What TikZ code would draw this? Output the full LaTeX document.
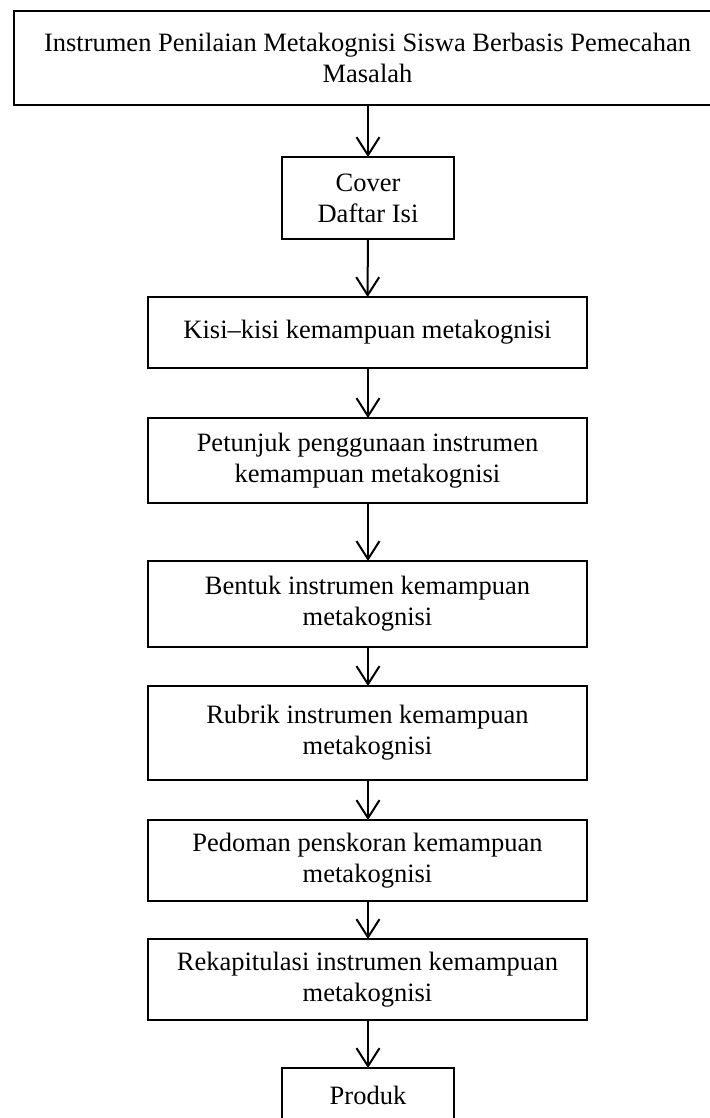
\documentclass[tikz,border=0pt]{standalone}
\usepackage{fontspec}
\setmainfont{Liberation Serif}
\usetikzlibrary{arrows.meta}
\begin{document}
\begin{tikzpicture}[x=1pt,y=-1pt,
  box/.style={draw=black,line width=2.8pt,rectangle,inner sep=0pt,outer sep=0pt,
    align=center,font=\fontsize{26.5}{31}\selectfont},
  wide/.style={box,minimum width=439pt},
  narrow/.style={box,minimum width=172pt},
  flow/.style={draw=black,line width=2pt,-{Straight Barb[length=18pt,width=23pt,line width=2pt]}}]
\fill[white] (0,0) rectangle (709,1118);
\useasboundingbox (0,0) rectangle (709,1118);
\node[box,minimum width=707pt,minimum height=94pt] (top) at (367.5,58)
  {Instrumen Penilaian Metakognisi Siswa Berbasis Pemecahan\\Masalah};
\node[narrow,minimum height=82pt] (cover) at (368,198) {Cover\\Daftar Isi};
\node[wide,minimum height=71pt] (kisi) at (367.5,332.5) {Kisi--kisi kemampuan metakognisi};
\node[wide,minimum height=85pt] (pet) at (367.5,460.5) {Petunjuk penggunaan instrumen\\kemampuan metakognisi};
\node[wide,minimum height=86pt] (bentuk) at (367.5,604) {Bentuk instrumen kemampuan\\metakognisi};
\node[wide,minimum height=94pt] (rubrik) at (367.5,733) {Rubrik instrumen kemampuan\\metakognisi};
\node[wide,minimum height=81pt] (pedoman) at (367.5,860.5) {Pedoman penskoran kemampuan\\metakognisi};
\node[wide,minimum height=81pt] (rekap) at (367.5,979.5) {Rekapitulasi instrumen kemampuan\\metakognisi};
\node[narrow,minimum height=54pt] (produk) at (368,1095) {Produk};
\draw[flow] (top.south -| cover.north) -- (cover.north);
\draw[flow] (cover) -- (kisi);
\draw[flow] (kisi.south -| cover.north) -- (pet.north -| cover.north);
\draw[flow] (pet.south -| cover.north) -- (bentuk.north -| cover.north);
\draw[flow] (bentuk.south -| cover.north) -- (rubrik.north -| cover.north);
\draw[flow] (rubrik.south -| cover.north) -- (pedoman.north -| cover.north);
\draw[flow] (pedoman.south -| cover.north) -- (rekap.north -| cover.north);
\draw[flow] (rekap.south -| cover.north) -- (produk.north);
\end{tikzpicture}
\end{document}
